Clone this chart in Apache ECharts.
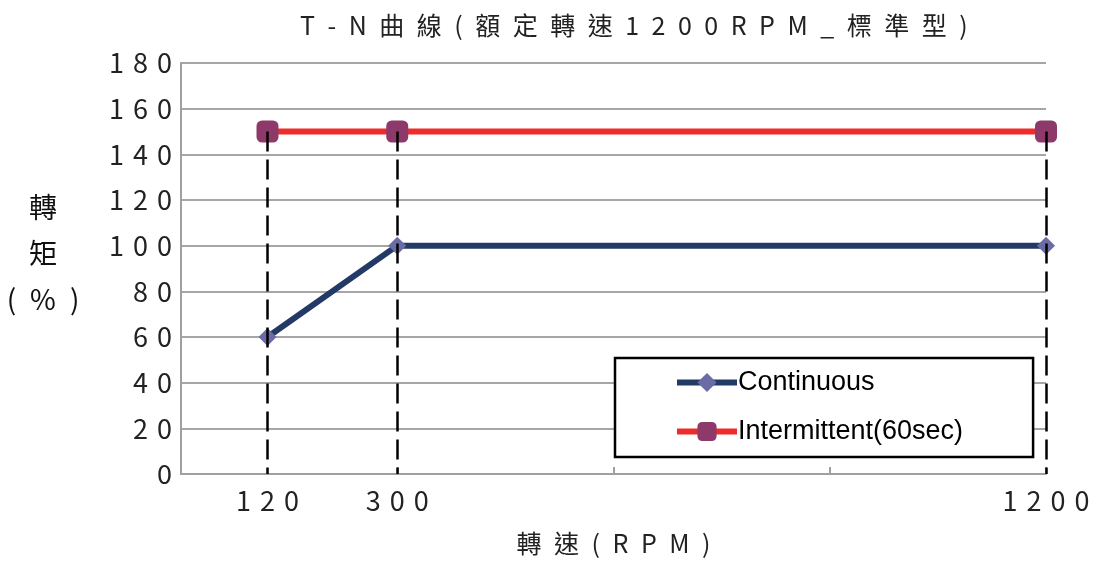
<!DOCTYPE html>
<html><head><meta charset="utf-8">
<script src="https://cdn.jsdelivr.net/npm/echarts@6/dist/echarts.min.js"></script>
<style>html,body{margin:0;padding:0;background:#fff}#c{width:1096px;height:564px}</style>
</head><body><div id="c"></div>
<script>
const speeds = [120, 300, 1200];
const continuous = [60, 100, 100];
const intermittent = [150, 150, 150];
const xLabelValues = [120, 300, 1200];
const titleText = 'T-N曲線(額定轉速1200RPM_標準型)';
const xName = '轉速(RPM)';
const yName = ['轉', '矩', '(%)'];
const seriesNames = ['Continuous', 'Intermittent(60sec)'];

const spWide = s => String(s).split('').join('\u2002');
const spNum = s => String(s).split('').join('\u2004');
const FONT = '"Noto Sans CJK TC", "Noto Sans", sans-serif';
const TXT = '#222';

const chart = echarts.init(document.getElementById('c'));
chart.setOption({
  animation: false,
  backgroundColor: '#fff',
  title: [
    {
      text: spWide(titleText), left: 295, top: 8,
      textStyle: { fontFamily: FONT, fontSize: 25, fontWeight: 'normal', color: TXT }
    },
    {
      text: yName.map(spWide).join('\n'), left: 43, top: 184, textAlign: 'center', padding: 0,
      textStyle: { fontFamily: FONT, fontSize: 28, fontWeight: 'normal', color: '#111', lineHeight: 46, align: 'center' }
    }
  ],
  grid: { left: 181, right: 50, top: 63, bottom: 90, containLabel: false, outerBoundsMode: 'none' },
  legend: {
    left: 615, top: 358, orient: 'vertical',
    padding: [11, 70, 12, 59], itemGap: 22, itemWidth: 60, itemHeight: 24,
    backgroundColor: '#fff', borderColor: '#000', borderWidth: 2.5,
    lineStyle: { width: 6 },
    textStyle: { fontFamily: '"Liberation Sans Narrow", "Liberation Sans", sans-serif', fontSize: 27, color: '#000', padding: [0,0,0,-4] },
    data: seriesNames
  },
  xAxis: {
    type: 'value', min: 0, max: 1200, interval: 300,
    name: spWide(xName), nameLocation: 'middle', nameGap: 57, nameMoveOverlap: false,
    nameTextStyle: { fontFamily: FONT, fontSize: 25, color: TXT },
    axisLine: { show: true, lineStyle: { color: '#a0a0a0', width: 2 } },
    axisTick: { show: true, inside: true, length: 7, lineStyle: { color: '#a0a0a0', width: 2 } },
    axisLabel: { customValues: xLabelValues, formatter: v => spNum(v), margin: 13, fontFamily: FONT, fontSize: 27, color: TXT },
    splitLine: { show: false }
  },
  yAxis: {
    type: 'value', min: 0, max: 180, interval: 20,
    axisLine: { show: true, lineStyle: { color: '#a0a0a0', width: 2 } },
    axisTick: { show: false },
    axisLabel: { formatter: v => spNum(v), margin: 9, fontFamily: FONT, fontSize: 27, color: TXT },
    splitLine: { show: true, lineStyle: { color: '#a6a6a6', width: 2 } }
  },
  series: [
    {
      name: seriesNames[0], type: 'line', z: 3,
      data: speeds.map((x, i) => [x, continuous[i]]),
      lineStyle: { color: '#243a66', width: 6 },
      itemStyle: { color: '#6b6ba6' },
      symbol: 'diamond', symbolSize: 18, showAllSymbol: true
    },
    {
      name: seriesNames[1], type: 'line', z: 3,
      data: speeds.map((x, i) => [x, intermittent[i]]),
      lineStyle: { color: '#ef2b2b', width: 6 },
      itemStyle: { color: '#8d3a6b' },
      symbol: 'roundRect', symbolSize: 22, showAllSymbol: true
    },
    {
      type: 'line', z: 10, data: [], silent: true,
      markLine: {
        silent: true, symbol: 'none', animation: false,
        label: { show: false },
        lineStyle: { color: '#000', width: 2.5, type: [20, 8] },
        data: speeds.map((x, i) => [{ coord: [x, intermittent[i]] }, { coord: [x, 0] }])
      }
    }
  ]
});
</script></body></html>
